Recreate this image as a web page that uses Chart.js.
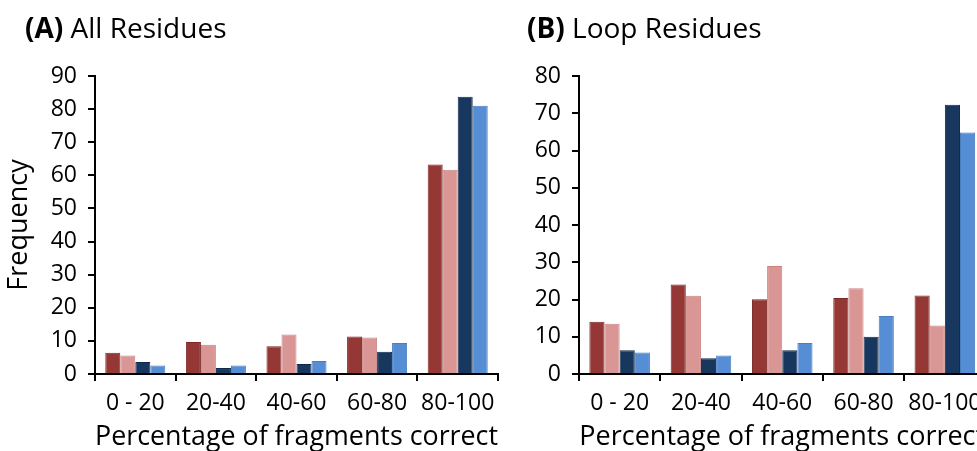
<!DOCTYPE html>
<html>
<head>
<meta charset="utf-8">
<script src="https://cdn.jsdelivr.net/npm/chart.js@4"></script>
<style>
  html, body { margin:0; padding:0; background:#fff; }
  body { width:977px; height:451px; overflow:hidden; position:relative; font-family:"Open Sans", sans-serif; }
  .panel { position:absolute; top:0; width:500px; height:451px; }
  .title { position:absolute; top:11px; font-size:28px; line-height:32px; color:#000; white-space:nowrap; }
  .title b { font-weight:700; }
</style>
</head>
<body>
<div class="panel" style="left:0;"><canvas id="chartA" width="500" height="451"></canvas></div>
<div class="panel" style="left:500px;"><canvas id="chartB" width="500" height="451"></canvas></div>
<div class="title" style="left:25px;"><b>(A)</b> All Residues</div>
<div class="title" style="left:527px;"><b>(B)</b> Loop Residues</div>
<script>
// bins of percentage of fragments correct
const categories = ['0 - 20', '20-40', '40-60', '60-80', '80-100'];

// (A) all residues
const allS1 = [6.4, 9.7, 8.4, 11.3, 63.3];
const allS2 = [5.6, 8.8, 11.9, 11.0, 61.7];
const allS3 = [3.6, 1.8, 3.0, 6.7, 83.7];
const allS4 = [2.6, 2.6, 3.9, 9.4, 81.0];

// (B) loop residues
const loopS1 = [14.0, 24.0, 20.1, 20.4, 21.1];
const loopS2 = [13.5, 21.0, 29.0, 23.0, 13.0];
const loopS3 = [6.4, 4.2, 6.4, 10.0, 72.3];
const loopS4 = [5.8, 5.0, 8.3, 15.6, 64.8];

const COLORS = ['#953735', '#D99694', '#17375E', '#558ED5'];
const EDGES  = ['#7a2a28', '#c98482', '#10294a', '#4a7dbd'];
const FONT = '"Open Sans", sans-serif';

function makeDatasets(series){
  return series.map((data, i) => ({
    data, backgroundColor: COLORS[i], borderColor: EDGES[i], borderWidth: 1,
    categoryPercentage: 0.745, barPercentage: 1.0
  }));
}

function makeChart(id, series, yMax, yWidth, rightPad, showYTitle){
  new Chart(document.getElementById(id), {
    type: 'bar',
    data: { labels: categories, datasets: makeDatasets(series) },
    options: {
      responsive: false, animation: false,
      layout: { padding: { top: 76, right: rightPad, bottom: 0, left: 0 } },
      plugins: { legend: { display: false }, tooltip: { enabled: false } },
      scales: {
        x: {
          grid: { drawOnChartArea: false, drawTicks: true, tickLength: 7, color: '#000', lineWidth: 2 },
          border: { display: true, color: '#000', width: 2 },
          ticks: { color: '#000', font: { family: FONT, size: 23, lineHeight: 1 }, padding: 11, maxRotation: 0, autoSkip: false },
          title: { display: true, text: 'Percentage of fragments correct', color: '#000',
                   font: { family: FONT, size: 27, lineHeight: 1 }, padding: { top: 0, bottom: 0 } },
          // fixed axis box, no extra room for the end labels
          afterFit: s => { s.height = 451 - 374; s.paddingLeft = 0; s.paddingRight = 0; }
        },
        y: {
          min: 0, max: yMax,
          grid: { drawOnChartArea: false, drawTicks: true, tickLength: 7, color: '#000', lineWidth: 2 },
          border: { display: true, color: '#000', width: 2 },
          ticks: { stepSize: 10, color: '#000', font: { family: FONT, size: 23 }, padding: 11 },
          title: { display: showYTitle, text: 'Frequency', color: '#000',
                   font: { family: FONT, size: 27, lineHeight: 1 }, padding: { top: 6, bottom: 0 } },
          afterFit: s => { s.width = yWidth; s.paddingTop = 0; s.paddingBottom = 0; }
        }
      }
    }
  });
}

makeChart('chartA', [allS1, allS2, allS3, allS4], 90, 95, 2, true);
makeChart('chartB', [loopS1, loopS2, loopS3, loopS4], 80, 79, 14.5, false);
</script>
</body>
</html>
